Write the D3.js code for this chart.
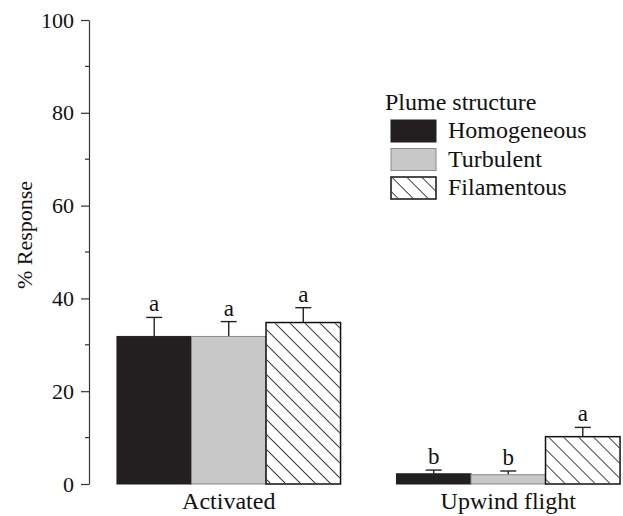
<!DOCTYPE html>
<html>
<head>
<meta charset="utf-8">
<script src="https://cdn.jsdelivr.net/npm/d3@7"></script>
<style>
  body { margin: 0; background: #fff; }
  svg text { font-family: "Liberation Serif", "Times New Roman", serif; fill: #111; }
</style>
</head>
<body>
<svg id="chart" width="623" height="516"></svg>
<script>
  'use strict';

  var groups = ["Activated", "Upwind flight"];
  var series = ["Homogeneous", "Turbulent", "Filamentous"];
  var homogeneous = [31.8, 2.2];
  var turbulent = [31.8, 2.0];
  var filamentous = [34.8, 10.2];
  var homogeneousErr = [4.1, 0.8];
  var turbulentErr = [3.2, 0.8];
  var filamentousErr = [3.2, 2.0];
  var letters = [["a", "a", "a"], ["b", "b", "a"]];
  var yTicks = [0, 20, 40, 60, 80, 100];
  var yMinorTicks = [10, 30, 50, 70, 90];

  var means = [homogeneous, turbulent, filamentous];
  var errs = [homogeneousErr, turbulentErr, filamentousErr];

  var svg = d3.select("#chart");

  var defs = svg.append("defs");
  defs.append("pattern")
      .attr("id", "hatch")
      .attr("patternUnits", "userSpaceOnUse")
      .attr("width", 10.6)
      .attr("height", 10)
      .attr("patternTransform", "rotate(-45)")
    .append("line")
      .attr("x1", 0).attr("y1", -2)
      .attr("x2", 0).attr("y2", 12)
      .attr("stroke", "#111")
      .attr("stroke-width", 1.6);

  var fills = ["#231f20", "#c8c8c8", "url(#hatch)"];
  var strokes = ["#231f20", "#8a8a8a", "#111"];
  var strokeW = [1, 1, 1.5];

  var y = d3.scaleLinear().domain([0, 100]).range([484, 20]);

  var x0 = d3.scaleBand().domain(groups).range([89, 648])
      .paddingInner(0.2).paddingOuter(0.1);
  var x1 = d3.scaleBand().domain(series).range([0, x0.bandwidth()]);

  // y axis
  var yAxis = svg.append("g")
      .attr("transform", "translate(89,0)")
      .call(d3.axisLeft(y).tickValues(yTicks).tickSize(8).tickSizeOuter(0).tickPadding(7));
  yAxis.select(".domain").attr("stroke", "#333").attr("stroke-width", 1.2);
  yAxis.selectAll(".tick line").attr("stroke", "#333").attr("stroke-width", 1.2);
  yAxis.selectAll(".tick text")
      .style("font-family", "Liberation Serif, serif")
      .style("font-size", "22px")
      .attr("fill", "#111");

  svg.append("g").selectAll("line.minor")
      .data(yMinorTicks)
    .enter().append("line")
      .attr("x1", 85).attr("x2", 89)
      .attr("y1", function(d) { return y(d); })
      .attr("y2", function(d) { return y(d); })
      .attr("stroke", "#333")
      .attr("stroke-width", 1.2);

  svg.append("text")
      .attr("transform", "translate(32," + 235 + ") rotate(-90)")
      .attr("text-anchor", "middle")
      .style("font-size", "22px")
      .text("% Response");

  // bars
  var rows = [];
  groups.forEach(function(g, gi) {
    series.forEach(function(s, si) {
      rows.push({ group: g, series: s, si: si, value: means[si][gi], err: errs[si][gi], letter: letters[gi][si] });
    });
  });

  var barG = svg.append("g");
  var bar = barG.selectAll("g.bar")
      .data(rows)
    .enter().append("g")
      .attr("class", "bar")
      .attr("transform", function(d) { return "translate(" + (x0(d.group) + x1(d.series)) + ",0)"; });

  var bw = x1.bandwidth();

  // error bars
  bar.append("line")
      .attr("x1", bw / 2).attr("x2", bw / 2)
      .attr("y1", function(d) { return y(d.value); })
      .attr("y2", function(d) { return y(d.value + d.err); })
      .attr("stroke", "#222").attr("stroke-width", 1.4);
  bar.append("line")
      .attr("x1", bw / 2 - 8).attr("x2", bw / 2 + 8)
      .attr("y1", function(d) { return y(d.value + d.err); })
      .attr("y2", function(d) { return y(d.value + d.err); })
      .attr("stroke", "#222").attr("stroke-width", 1.4);

  bar.append("rect")
      .attr("x", 0)
      .attr("width", bw)
      .attr("y", function(d) { return y(d.value); })
      .attr("height", function(d) { return y(0) - y(d.value); })
      .attr("fill", function(d) { return d.si === 2 ? "#fff" : fills[d.si]; })
      .attr("stroke", function(d) { return strokes[d.si]; })
      .attr("stroke-width", function(d) { return strokeW[d.si]; });
  bar.filter(function(d) { return d.si === 2; }).append("rect")
      .attr("x", 0.75)
      .attr("width", bw - 1.5)
      .attr("y", function(d) { return y(d.value) + 0.75; })
      .attr("height", function(d) { return y(0) - y(d.value) - 1.5; })
      .attr("fill", "url(#hatch)");

  bar.append("text")
      .attr("x", bw / 2)
      .attr("y", function(d) { return y(d.value + d.err) - 6; })
      .attr("text-anchor", "middle")
      .style("font-size", "23px")
      .text(function(d) { return d.letter; });

  // group labels
  svg.append("g").selectAll("text")
      .data(groups)
    .enter().append("text")
      .attr("x", function(d) { return x0(d) + x0.bandwidth() / 2; })
      .attr("y", 509)
      .attr("text-anchor", "middle")
      .style("font-size", "24px")
      .text(function(d) { return d; });

  // legend
  var legend = svg.append("g").attr("transform", "translate(385,0)");
  legend.append("text")
      .attr("x", 0).attr("y", 110)
      .style("font-size", "24px")
      .text("Plume structure");

  var item = legend.selectAll("g.item")
      .data(series)
    .enter().append("g")
      .attr("class", "item")
      .attr("transform", function(d, i) { return "translate(6," + (120 + i * 28.5) + ")"; });
  item.append("rect")
      .attr("width", 45).attr("height", 22)
      .attr("fill", function(d, i) { return i === 2 ? "#fff" : fills[i]; })
      .attr("stroke", function(d, i) { return strokes[i]; })
      .attr("stroke-width", function(d, i) { return strokeW[i]; });
  item.filter(function(d, i) { return i === 2; }).append("rect")
      .attr("x", 0.75).attr("y", 0.75)
      .attr("width", 43.5).attr("height", 20.5)
      .attr("fill", "url(#hatch)");
  item.append("text")
      .attr("x", 57).attr("y", 18)
      .style("font-size", "24px")
      .text(function(d) { return d; });
</script>
</body>
</html>
